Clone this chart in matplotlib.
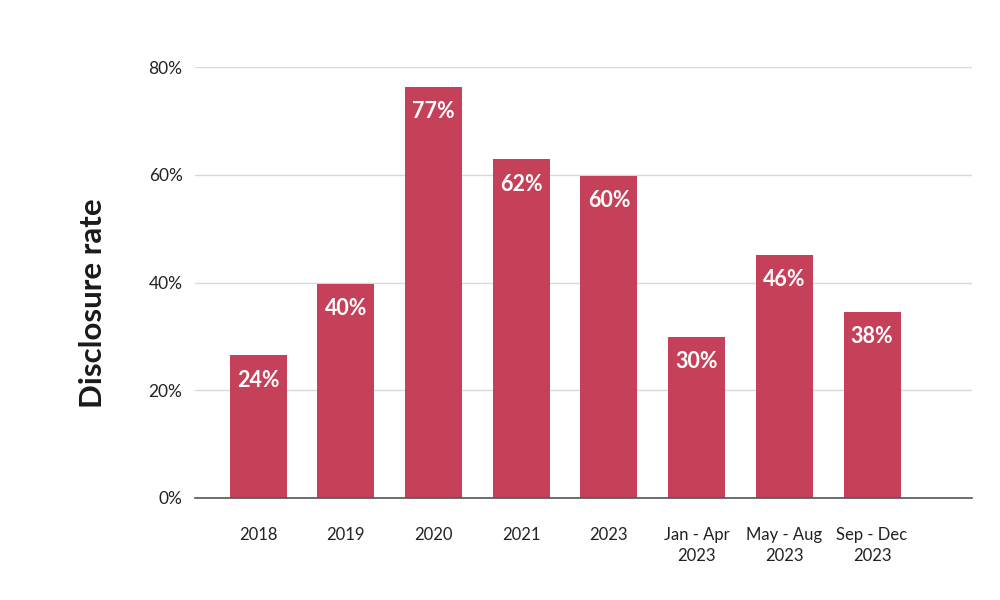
import matplotlib
matplotlib.use("Agg")
import matplotlib.pyplot as plt
from matplotlib.ticker import FuncFormatter

categories = ["2018", "2019", "2020", "2021", "2023",
              "Jan - Apr\n2023", "May - Aug\n2023", "Sep - Dec\n2023"]
values = [26.5, 39.8, 76.4, 62.9, 59.8, 29.9, 45.2, 34.6]
bar_labels = ["24%", "40%", "77%", "62%", "60%", "30%", "46%", "38%"]
y_ticks = [0, 20, 40, 60, 80]

plt.rcParams['font.family'] = ['Lato', 'DejaVu Sans']

fig = plt.figure(figsize=(10, 6), dpi=100)
ax = fig.add_axes([0.195, 0.17, 0.777, 0.718])

bar_color = "#C5415A"
x = list(range(len(categories)))
ax.bar(x, values, width=0.65, color=bar_color, zorder=3)

for xi, v, lab in zip(x, values, bar_labels):
    ax.annotate(lab, (xi, v), xytext=(0, -18), textcoords="offset points",
                ha="center", va="center", color="white",
                fontsize=15.5, fontweight="bold", zorder=4)

ax.set_xlim(-0.72, 8.14)
ax.set_ylim(0, 80)
ax.set_yticks(y_ticks)
ax.yaxis.set_major_formatter(FuncFormatter(lambda v, p: f"{int(v)}%"))
ax.set_xticks(x)
ax.set_xticklabels(categories, fontsize=12, color="#222222", linespacing=1.35)
ax.tick_params(axis="x", length=0, pad=21)
ax.tick_params(axis="y", length=0, pad=9, labelsize=12.5, labelcolor="#222222")

ax.grid(axis="y", color="#d9d9d9", linewidth=1, zorder=0)
for s in ["top", "right", "left"]:
    ax.spines[s].set_visible(False)
ax.spines["bottom"].set_color("#555555")
ax.spines["bottom"].set_linewidth(1.2)
ax.spines["bottom"].set_zorder(5)

fig.text(0.093, 0.495, "Disclosure rate", rotation=90, ha="center", va="center",
         fontsize=22.5, fontweight="bold", color="#1a1a1a")

fig.savefig("out.png", dpi=100, facecolor="white")
